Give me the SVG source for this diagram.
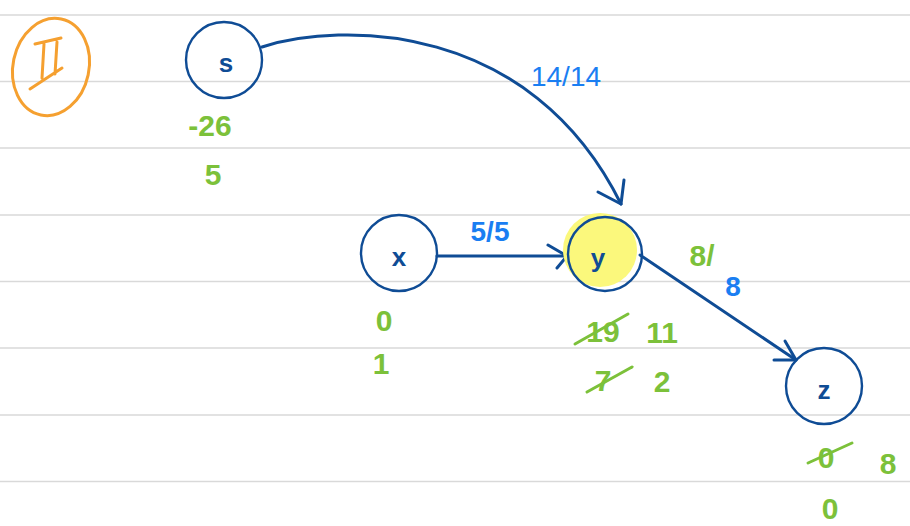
<svg xmlns="http://www.w3.org/2000/svg" width="910" height="526" viewBox="0 0 910 526">
<defs>
<style>
.rule{stroke:#d9d9d9;stroke-width:1.6}
.node{fill:none;stroke:#0f4c95;stroke-width:2.4}
.nl{font-family:"Liberation Sans",Arial,sans-serif;font-size:26px;font-weight:bold;fill:#0f4c95;text-anchor:middle}
.edge{fill:none;stroke:#0f4c95;stroke-width:3;stroke-linecap:round;stroke-linejoin:round}
.cap{font-family:"Liberation Sans",Arial,sans-serif;font-size:28px;fill:#1a7ef2;text-anchor:middle}
.g{font-family:"Liberation Sans",Arial,sans-serif;font-size:30px;font-weight:bold;fill:#7cc13a;text-anchor:middle}
.strike{stroke:#7cc13a;stroke-width:3;stroke-linecap:round}
</style>
</defs>
<rect width="910" height="526" fill="#ffffff"/>
<g id="rules">
<line class="rule" x1="0" y1="15" x2="910" y2="15"/>
<line class="rule" x1="0" y1="81.5" x2="910" y2="81.5"/>
<line class="rule" x1="0" y1="148" x2="910" y2="148"/>
<line class="rule" x1="0" y1="215" x2="910" y2="215"/>
<line class="rule" x1="0" y1="281.5" x2="910" y2="281.5"/>
<line class="rule" x1="0" y1="348" x2="910" y2="348"/>
<line class="rule" x1="0" y1="415" x2="910" y2="415"/>
<line class="rule" x1="0" y1="481.5" x2="910" y2="481.5"/>
</g>
<g id="label-II">
<ellipse cx="51" cy="67" rx="38" ry="49" transform="rotate(12 51 67)" fill="none" stroke="#f5a030" stroke-width="3"/>
<path d="M35 44 L61 38 M44 44 L42 78 M57 42 L55 74 M30 89 L62 68" fill="none" stroke="#f5a030" stroke-width="3" stroke-linecap="round"/>
</g>
<g id="connectors">
<path class="edge" d="M262 47 C340 22 530 20 621 204"/>
<path class="edge" d="M598 192 L621 204 L624 180"/>
<path class="edge" d="M437 256 L566 256"/>
<path class="edge" d="M548 245 L567 256 L557 268"/>
<path class="edge" d="M640 255 L796 360"/>
<path class="edge" d="M774 360 L796 360 L785 341"/>
<text class="cap" x="566" y="86" font-size="30">14/14</text>
<text class="cap" x="490" y="241" font-weight="bold">5/5</text>
<text class="g" x="702" y="266">8/</text>
<text class="cap" x="733" y="296" font-size="32" font-weight="bold">8</text>
</g>
<g id="node-s">
<circle class="node" cx="224" cy="60" r="38"/>
<text class="nl" x="226" y="72" font-size="30">s</text>
<text class="g" x="210" y="136" font-size="24">-26</text>
<text class="g" x="213" y="185">5</text>
</g>
<g id="node-x">
<circle class="node" cx="399" cy="253" r="38"/>
<text class="nl" x="399" y="266">x</text>
<text class="g" x="384" y="331">0</text>
<text class="g" x="381" y="374">1</text>
</g>
<g id="node-y">
<circle cx="600" cy="250" r="37" fill="#fbf87c"/>
<circle class="node" cx="605" cy="254" r="37" stroke="#155a5a"/>
<text class="nl" x="598" y="267" font-size="30" fill="#124f55">y</text>
<text class="g" x="603" y="342">19</text>
<line class="strike" x1="575" y1="344" x2="628" y2="314"/>
<text class="g" x="662" y="343">11</text>
<text class="g" x="603" y="391">7</text>
<line class="strike" x1="587" y1="392" x2="632" y2="367"/>
<text class="g" x="662" y="392">2</text>
</g>
<g id="node-z">
<circle class="node" cx="824" cy="386" r="38"/>
<text class="nl" x="824" y="399">z</text>
<text class="g" x="826" y="468">0</text>
<line class="strike" x1="808" y1="463" x2="852" y2="443"/>
<text class="g" x="888" y="474">8</text>
<text class="g" x="830" y="519">0</text>
</g>
</svg>
